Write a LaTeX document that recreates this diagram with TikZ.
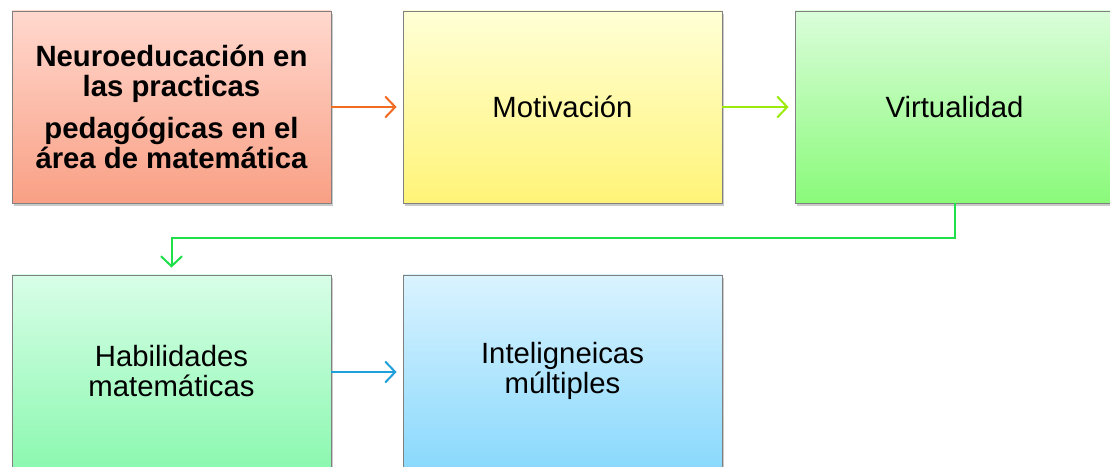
\documentclass[tikz,border=0pt]{standalone}
\usepackage{fontspec}
\setmainfont{Liberation Sans}
\usetikzlibrary{arrows.meta,shadows}
\definecolor{rTop}{HTML}{FFD8CE}
\definecolor{rBot}{HTML}{F9A085}
\definecolor{yTop}{HTML}{FFFFD6}
\definecolor{yBot}{HTML}{FFF478}
\definecolor{gTop}{HTML}{DAFDDA}
\definecolor{gBot}{HTML}{8AFA7A}
\definecolor{mTop}{HTML}{D8FEE8}
\definecolor{mBot}{HTML}{8CF8B0}
\definecolor{bTop}{HTML}{DAF3FF}
\definecolor{bBot}{HTML}{8AD9FC}
\definecolor{cOrange}{HTML}{F26B22}
\definecolor{cLime}{HTML}{9BEA0C}
\definecolor{cGreen}{HTML}{1FE04A}
\definecolor{cBlue}{HTML}{1FA0DA}
\definecolor{bordergray}{HTML}{808080}
\tikzset{
  box/.style={draw=bordergray, line width=0.8pt, minimum width=319pt, minimum height=192pt,
    inner sep=0pt, align=center, font=\fontsize{29.3}{30}\selectfont,
    drop shadow={shadow xshift=1.5pt, shadow yshift=-3pt, opacity=0.35, fill=black!60}},
  conn/.style={line width=2pt, -{Straight Barb[length=10pt,width=21pt,line width=2pt]}},
}
\begin{document}
\begin{tikzpicture}[x=1pt,y=1pt]
\useasboundingbox (0,0) rectangle (1110,466);
\clip (0,0) rectangle (1110,466);
\node[box, top color=rTop, bottom color=rBot] (n1) at (171.5,359)
  {\bfseries Neuroeducación en\\\bfseries las practicas\\[12pt]\bfseries pedagógicas en el\\\bfseries área de matemática};
\node[box, top color=yTop, bottom color=yBot] (n2) at (562.5,359) {Motivación};
\node[box, top color=gTop, bottom color=gBot] (n3) at (954.5,359) {Virtualidad};
\node[box, top color=mTop, bottom color=mBot] (n4) at (171.5,95) {Habilidades\\matemáticas};
\node[box, top color=bTop, bottom color=bBot] (n5) at (562.5,95) {Inteligneicas\\múltiples};
\draw[conn, draw=cOrange, shorten >=6pt] (n1.east) -- (n2.west);
\draw[conn, draw=cLime, shorten >=6pt] (n2.east) -- (n3.west);
\draw[conn, draw=cBlue, shorten >=6pt] (n4.east |- 0,94) -- (n5.west |- 0,94);
\coordinate (c1) at ([yshift=-35pt]n3.south);
\coordinate (c2) at (c1 -| n4.north);
\draw[conn, draw=cGreen, shorten >=7pt] (n3.south) -- (c1) -- (c2) -- (n4.north);
\end{tikzpicture}
\end{document}
